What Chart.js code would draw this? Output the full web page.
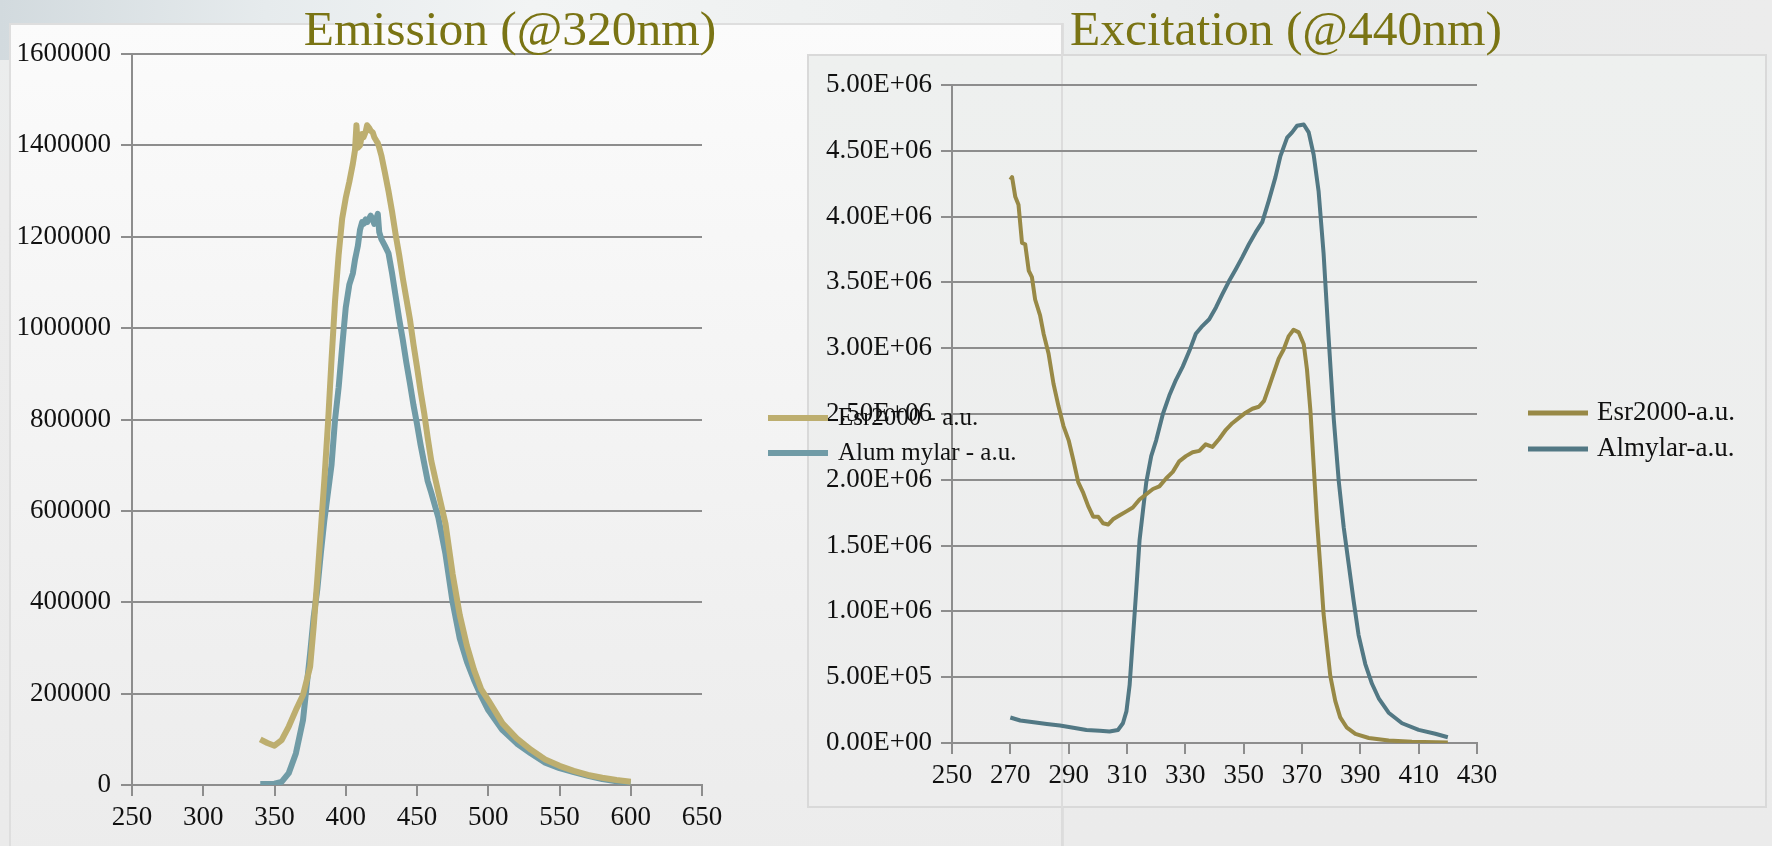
<!DOCTYPE html>
<html>
<head>
<meta charset="utf-8">
<script src="https://cdn.jsdelivr.net/npm/chart.js@4.4.1/dist/chart.umd.min.js"></script>
<style>
  html, body { margin: 0; padding: 0; }
  body {
    width: 1772px; height: 846px; overflow: hidden; position: relative;
    background: linear-gradient(to bottom, #e4e8ea 0px, #ebeded 40px, #ececec 200px, #ebebeb 100%);
    font-family: "Liberation Serif", serif;
  }
  .topband {
    position: absolute; left: 0; top: 0; width: 1772px; height: 60px;
    background: linear-gradient(to right, #d2dade 0%, #e6ebed 15%, #f2f4f4 30%, #eef0f0 50%, #e9ebeb 70%, #ececec 100%);
  }
  .box-left {
    position: absolute; left: 9px; top: 23px; width: 1051px; height: 900px;
    border: 2px solid #dedede;
    background: linear-gradient(to bottom, #fbfbfb 0%, #f5f5f5 35%, #efefef 70%, #ebebeb 100%);
  }
  .box-right {
    position: absolute; left: 807px; top: 54px; width: 956px; height: 750px;
    border: 2px solid #d9d9d9;
    background: linear-gradient(to bottom, #eef0ef 0%, #ededed 100%);
  }
  .vline {
    position: absolute; left: 1061px; top: 23px; width: 2px; height: 823px;
    background: #dcdcdc;
  }
  canvas { position: absolute; }
  #excitation { left: 807px; top: 54px; }
  #emission { left: 0; top: 0; }
  .title {
    position: absolute; top: 1px; width: 600px; text-align: center;
    font-family: "Liberation Serif", serif; font-size: 49.5px; line-height: 56px;
    color: #7a7414; white-space: nowrap;
  }
</style>
</head>
<body>
<div class="topband"></div>
<div class="box-left"></div>
<div class="box-right"></div>
<div class="vline"></div>
<canvas id="excitation" width="958" height="752"></canvas>
<canvas id="emission" width="1062" height="846"></canvas>
<div class="title" style="left:210px;">Emission (@320nm)</div>
<div class="title" style="left:986px;">Excitation (@440nm)</div>

<script>
// ---------- Emission (@320nm) ----------
const emNm = [340, 345, 350, 355, 360, 365, 370, 375, 377.5, 380, 382.5, 385, 387.5, 390, 392.5, 395, 397.5,
  400, 402.5, 405, 406.5, 407.5, 408.5, 410, 411.5, 412.5, 414, 415, 416.5, 417.5, 419, 420, 421.5, 422.5,
  423.5, 425, 427.5, 430, 432.5, 435, 437.5, 440, 442.5, 445, 447.5, 450, 452.5, 455, 457.5, 460, 465, 470,
  475, 480, 485, 490, 495, 500, 510, 520, 530, 540, 550, 560, 570, 580, 590, 600];

const emEsr = [100000, 92000, 86000, 98000, 128000, 164000, 197000, 259000, 347000, 449000, 558000, 668000,
  790000, 930000, 1060000, 1160000, 1240000, 1285000, 1320000, 1360000, 1390000, 1444000, 1395000, 1400000,
  1425000, 1418000, 1430000, 1444000, 1438000, 1432000, 1428000, 1418000, 1410000, 1405000, 1395000, 1378000,
  1340000, 1300000, 1255000, 1205000, 1160000, 1110000, 1065000, 1020000, 965000, 915000, 862000, 815000,
  760000, 710000, 640000, 572000, 462000, 372000, 305000, 252000, 210000, 186000, 135000, 102000, 77000,
  56000, 42000, 31000, 22000, 16000, 11000, 7000];

const emAlum = [2000, 2000, 3000, 7000, 26000, 69000, 142000, 288000, 368000, 427000, 507000, 580000, 640000,
  700000, 800000, 870000, 960000, 1045000, 1095000, 1120000, 1150000, 1165000, 1180000, 1215000, 1232000,
  1228000, 1238000, 1232000, 1240000, 1246000, 1238000, 1228000, 1240000, 1250000, 1210000, 1195000, 1180000,
  1164000, 1120000, 1070000, 1020000, 975000, 925000, 880000, 832000, 790000, 745000, 705000, 665000, 640000,
  585000, 505000, 400000, 321000, 270000, 230000, 195000, 164000, 120000, 91000, 69000, 49000, 37000, 28000,
  20000, 13000, 8000, 5000];

const emLabels = ['Esr2000 - a.u.', 'Alum mylar - a.u.'];

// ---------- Excitation (@440nm) ----------
const exEsrNm = [270, 270.6, 271.7, 272.8, 274, 275.1, 276.3, 277.4, 278.5, 280.2, 281.4, 283.1, 284.8, 286.5,
  288.2, 290, 291.6, 293.3, 295, 296.7, 298.4, 300.1, 301.8, 303.5, 305.2, 307.5, 309.8, 312, 314.3, 316.6,
  318.9, 321.1, 323.4, 325.7, 327.9, 330.2, 332.5, 334.8, 337, 339.3, 341.6, 343.9, 346.1, 348.4, 350.7, 353,
  355.2, 357, 358.6, 360.3, 362, 363.7, 365.4, 367.1, 368.9, 370.6, 371.7, 372.9, 374, 375.1, 376.3, 377.4,
  378.6, 379.7, 381.4, 383.1, 385.4, 388.3, 392.9, 399.7, 407.7, 420];

const exEsr = [4280000, 4300000, 4150000, 4090000, 3800000, 3790000, 3590000, 3540000, 3370000, 3250000,
  3110000, 2960000, 2730000, 2560000, 2410000, 2300000, 2150000, 1980000, 1900000, 1800000, 1720000, 1720000,
  1670000, 1660000, 1700000, 1730000, 1760000, 1790000, 1850000, 1890000, 1930000, 1950000, 2010000, 2060000,
  2140000, 2180000, 2210000, 2220000, 2270000, 2250000, 2310000, 2380000, 2430000, 2470000, 2510000, 2540000,
  2555000, 2600000, 2700000, 2810000, 2920000, 2990000, 3090000, 3140000, 3120000, 3030000, 2840000, 2520000,
  2110000, 1700000, 1330000, 980000, 730000, 510000, 320000, 195000, 116000, 69000, 38000, 19000, 9000, 3000];

const exAlmNm = [270, 273.4, 278, 282.5, 287, 291.6, 296.1, 300.7, 304, 306.9, 308.6, 309.8, 310.9, 312, 313.2,
  314.3, 315.5, 316.6, 318.3, 320, 322.3, 324.5, 326.8, 329.1, 331.4, 333.6, 335.9, 338.2, 340.5, 342.7, 345,
  347.3, 349.5, 351.8, 354.1, 356.4, 358.6, 360.9, 362.6, 364.9, 366.6, 368.3, 370.6, 372.3, 374, 375.7, 377.4,
  379.1, 380.9, 382.6, 384.3, 386, 387.7, 389.4, 391.7, 394, 396.3, 399.7, 404.3, 410, 415.7, 420];

const exAlm = [194000, 171000, 157000, 145000, 133000, 116000, 99000, 93000, 87000, 99000, 150000, 240000,
  440000, 790000, 1170000, 1540000, 1770000, 1980000, 2180000, 2300000, 2500000, 2640000, 2760000, 2860000,
  2980000, 3110000, 3170000, 3220000, 3310000, 3410000, 3510000, 3600000, 3690000, 3790000, 3880000, 3960000,
  4120000, 4300000, 4460000, 4600000, 4640000, 4690000, 4700000, 4640000, 4470000, 4190000, 3720000, 3090000,
  2460000, 1990000, 1640000, 1360000, 1080000, 820000, 600000, 450000, 340000, 230000, 150000, 100000, 70000,
  44000];

const exLabels = ['Esr2000-a.u.', 'Almylar-a.u.'];

const pairs = (xs, ys) => xs.map((x, i) => ({ x, y: ys[i] }));

// 5.00E+06 style labels
const sci = (v) => {
  const [m, e] = Number(v).toExponential(2).split('e');
  const n = Number(e);
  return m + 'E' + (n < 0 ? '-' : '+') + String(Math.abs(n)).padStart(2, '0');
};

// legend drawn beside the plot, one line sample + label per dataset
const sideLegend = {
  id: 'sideLegend',
  afterDraw(chart, args, opts) {
    const ctx = chart.ctx;
    ctx.save();
    ctx.font = `${opts.size}px "Liberation Serif"`;
    ctx.textBaseline = 'middle';
    ctx.fillStyle = '#111';
    chart.data.datasets.forEach((ds, i) => {
      const y = opts.y + i * opts.dy;
      ctx.strokeStyle = ds.borderColor;
      ctx.lineWidth = opts.lineWidth;
      ctx.beginPath();
      ctx.moveTo(opts.x, y);
      ctx.lineTo(opts.x + opts.sample, y);
      ctx.stroke();
      ctx.fillText(ds.label, opts.x + opts.sample + opts.gap, y);
    });
    ctx.restore();
  }
};

const tickFont = { family: 'Liberation Serif', size: 27 };
const gridCol = '#8d8d8d';

function makeChart(id, cfg) {
  return new Chart(document.getElementById(id), {
    type: 'line',
    data: {
      datasets: cfg.series.map(s => ({
        label: s.label,
        data: s.data,
        borderColor: s.color,
        borderWidth: cfg.lineWidth,
        pointRadius: 0,
        tension: 0,
        fill: false,
        borderJoinStyle: 'round'
      }))
    },
    options: {
      responsive: false,
      animation: false,
      devicePixelRatio: 1,
      layout: { padding: cfg.padding },
      plugins: {
        legend: { display: false },
        tooltip: { enabled: false },
        sideLegend: cfg.legend
      },
      scales: {
        x: {
          type: 'linear',
          min: cfg.x.min, max: cfg.x.max,
          afterFit: (s) => { s.height = cfg.x.height; },
          ticks: { stepSize: cfg.x.step, font: tickFont, color: '#111', padding: 6, maxRotation: 0, autoSkip: false },
          grid: { drawOnChartArea: false, drawTicks: true, tickLength: 11, color: gridCol, lineWidth: 2 },
          border: { display: true, color: gridCol, width: 2 }
        },
        y: {
          min: 0, max: cfg.y.max,
          afterFit: (s) => { s.width = cfg.y.width; },
          ticks: { stepSize: cfg.y.step, font: tickFont, color: '#111', padding: cfg.y.pad, callback: cfg.y.fmt },
          grid: { color: gridCol, lineWidth: 2, tickLength: 11 },
          border: { display: true, color: gridCol, width: 2 }
        }
      }
    },
    plugins: [sideLegend]
  });
}

makeChart('excitation', {
  lineWidth: 4,
  padding: { top: 31, right: 288, bottom: 0, left: 0 },
  x: { min: 250, max: 430, step: 20, height: 63 },
  y: { max: 5000000, step: 500000, width: 145, pad: 9, fmt: sci },
  legend: { x: 721, y: 359, dy: 36, sample: 60, gap: 9, size: 27, lineWidth: 5 },
  series: [
    { label: exLabels[0], data: pairs(exEsrNm, exEsr), color: '#988946' },
    { label: exLabels[1], data: pairs(exAlmNm, exAlm), color: '#527884' }
  ]
});

makeChart('emission', {
  lineWidth: 6,
  padding: { top: 54, right: 360, bottom: 0, left: 0 },
  x: { min: 250, max: 650, step: 50, height: 61 },
  y: { max: 1600000, step: 200000, width: 132, pad: 10, fmt: (v) => String(v) },
  legend: { x: 768, y: 418, dy: 35, sample: 60, gap: 10, size: 25, lineWidth: 6 },
  series: [
    { label: emLabels[0], data: pairs(emNm, emEsr), color: '#bdae6f' },
    { label: emLabels[1], data: pairs(emNm, emAlum), color: '#709ba6' }
  ]
});
</script>
</body>
</html>
